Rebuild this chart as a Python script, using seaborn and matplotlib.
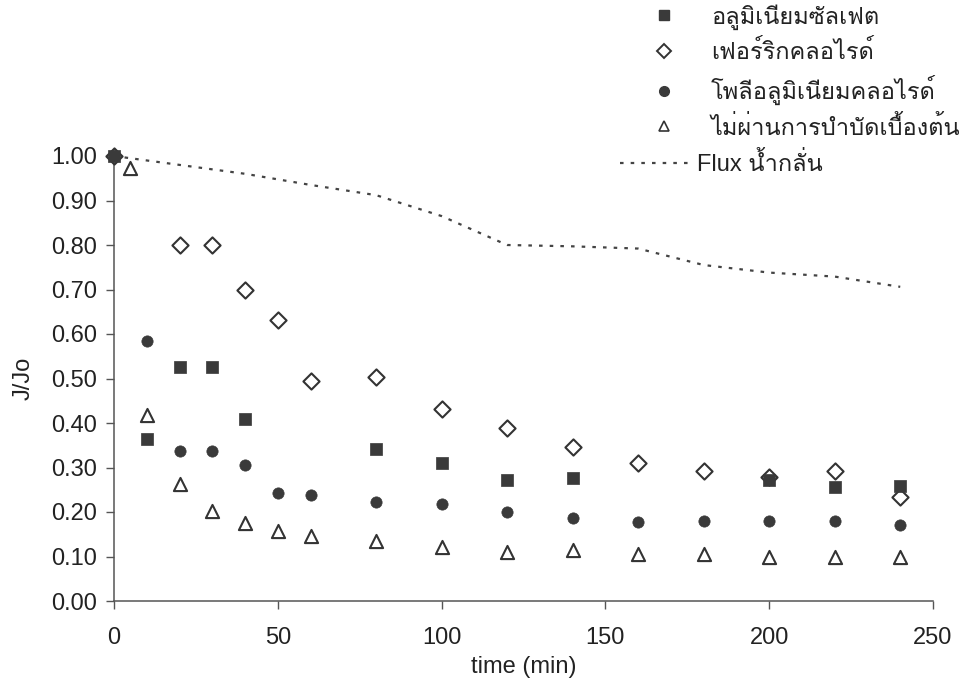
import numpy as np
import pandas as pd
import matplotlib
matplotlib.use("Agg")
import matplotlib.pyplot as plt
from matplotlib import font_manager
from matplotlib.ft2font import FT2Font
from matplotlib.lines import Line2D
import seaborn as sns

# --- data -------------------------------------------------------------
alum_t = [0, 10, 20, 30, 40, 80, 100, 120, 140, 200, 220, 240]
alum_v = [1.00, 0.365, 0.525, 0.525, 0.41, 0.341, 0.309, 0.272, 0.276, 0.272, 0.256, 0.258]

ferric_t = [0, 20, 30, 40, 50, 60, 80, 100, 120, 140, 160, 180, 200, 220, 240]
ferric_v = [1.00, 0.80, 0.80, 0.70, 0.632, 0.495, 0.504, 0.432, 0.388, 0.345, 0.31, 0.292, 0.278, 0.292, 0.234]

pac_t = [0, 10, 20, 30, 40, 50, 60, 80, 100, 120, 140, 160, 180, 200, 220, 240]
pac_v = [1.00, 0.584, 0.337, 0.337, 0.306, 0.242, 0.238, 0.223, 0.218, 0.200, 0.186, 0.177, 0.180, 0.180, 0.180, 0.171]

raw_t = [5, 10, 20, 30, 40, 50, 60, 80, 100, 120, 140, 160, 180, 200, 220, 240]
raw_v = [0.972, 0.418, 0.263, 0.202, 0.176, 0.157, 0.145, 0.135, 0.121, 0.111, 0.115, 0.106, 0.106, 0.100, 0.100, 0.100]

water_t = [0, 20, 40, 60, 80, 100, 120, 140, 160, 180, 200, 220, 240]
water_v = [1.00, 0.98, 0.96, 0.935, 0.912, 0.865, 0.80, 0.797, 0.792, 0.755, 0.738, 0.729, 0.706]

labels = ["อลูมิเนียมซัลเฟต", "เฟอร์ริกคลอไรด์", "โพลีอลูมิเนียมคลอไรด์",
          "ไม่ผ่านการบำบัดเบื้องต้น", "Flux น้ำกลั่น"]
x_ticks = [0, 50, 100, 150, 200, 250]
y_ticks = [0.0, 0.1, 0.2, 0.3, 0.4, 0.5, 0.6, 0.7, 0.8, 0.9, 1.0]


def thai_family():
    """First installed family that carries Thai glyphs."""
    for f in font_manager.fontManager.ttflist:
        try:
            if FT2Font(f.fname).get_char_index(0x0E2D):
                return f.name
        except Exception:
            continue
    return None


sns.set_theme(style="ticks")
fams = ["Liberation Sans"]
tf = thai_family()
if tf:
    fams.append(tf)
fams.append("DejaVu Sans")
plt.rcParams["font.family"] = fams

ink = "#333333"
fig = plt.figure(figsize=(9.76, 6.85), dpi=100)
ax = fig.add_axes([114 / 976, 1 - 601 / 685, (933 - 114) / 976, (601 - 156) / 685])

# water flux reference line
sns.lineplot(x=water_t, y=water_v, ax=ax, color="#444444", lw=1.6,
             linestyle=(0, (1.6, 3.2)), clip_on=False)

sns.scatterplot(x=ferric_t, y=ferric_v, ax=ax, marker="D", s=68,
                facecolor="white", edgecolor=ink, linewidth=1.5, clip_on=False, zorder=3)
sns.scatterplot(x=raw_t, y=raw_v, ax=ax, marker="^", s=90,
                facecolor="white", edgecolor=ink, linewidth=1.5, clip_on=False, zorder=3)
sns.scatterplot(x=pac_t, y=pac_v, ax=ax, marker="o", s=66,
                color="#3a3a3a", edgecolor="#3a3a3a", linewidth=0.5, clip_on=False, zorder=4)
sns.scatterplot(x=alum_t, y=alum_v, ax=ax, marker="s", s=66,
                color="#3a3a3a", edgecolor="#3a3a3a", linewidth=0.5, clip_on=False, zorder=5)

ax.set_xlim(0, 250)
ax.set_ylim(0, 1.0)
ax.set_xticks(x_ticks)
ax.set_yticks(y_ticks)
ax.set_yticklabels([f"{v:.2f}" for v in y_ticks])
ax.set_xticklabels([str(v) for v in x_ticks])
ax.tick_params(axis="both", labelsize=17, colors="#555555", labelcolor="#222222",
               length=6, width=1, direction="out")
ax.tick_params(axis="y", pad=6)
ax.tick_params(axis="x", pad=13)
for side in ("top", "right"):
    ax.spines[side].set_visible(False)
for side in ("left", "bottom"):
    ax.spines[side].set_color("#555555")
    ax.spines[side].set_linewidth(1.1)
ax.set_xlabel("time (min)", fontsize=17, color="#222222", labelpad=5)
ax.set_ylabel("J/Jo", fontsize=17, color="#222222", labelpad=12)
ax.set_facecolor("white")

# legend: marker series
mk_handles = [
    Line2D([], [], ls="none", marker="s", ms=7, mfc="#3a3a3a", mec="#3a3a3a"),
    Line2D([], [], ls="none", marker="D", ms=7, mfc="white", mec=ink, mew=1.4),
    Line2D([], [], ls="none", marker="o", ms=7, mfc="#3a3a3a", mec="#3a3a3a"),
    Line2D([], [], ls="none", marker="^", ms=7.5, mfc="white", mec=ink, mew=1.2),
]
leg1 = fig.legend(mk_handles, labels[:4], loc="upper left",
                  bbox_to_anchor=(640 / 976, 1 - 4 / 685), frameon=False,
                  fontsize=17, handlelength=2.0, handletextpad=1.0,
                  labelspacing=0.45, borderpad=0, borderaxespad=0)
for t in leg1.get_texts():
    t.set_color("#222222")

fl_handle = [Line2D([], [], color="#444444", lw=1.6, linestyle=(0, (1.6, 3.2)))]
leg2 = fig.legend(fl_handle, labels[4:], loc="upper left",
                  bbox_to_anchor=(620 / 976, 1 - 152 / 685), frameon=False,
                  fontsize=17, handlelength=3.1, handletextpad=0.15,
                  borderpad=0, borderaxespad=0)
for t in leg2.get_texts():
    t.set_color("#222222")

fig.savefig("out.png", dpi=100, facecolor="white")
